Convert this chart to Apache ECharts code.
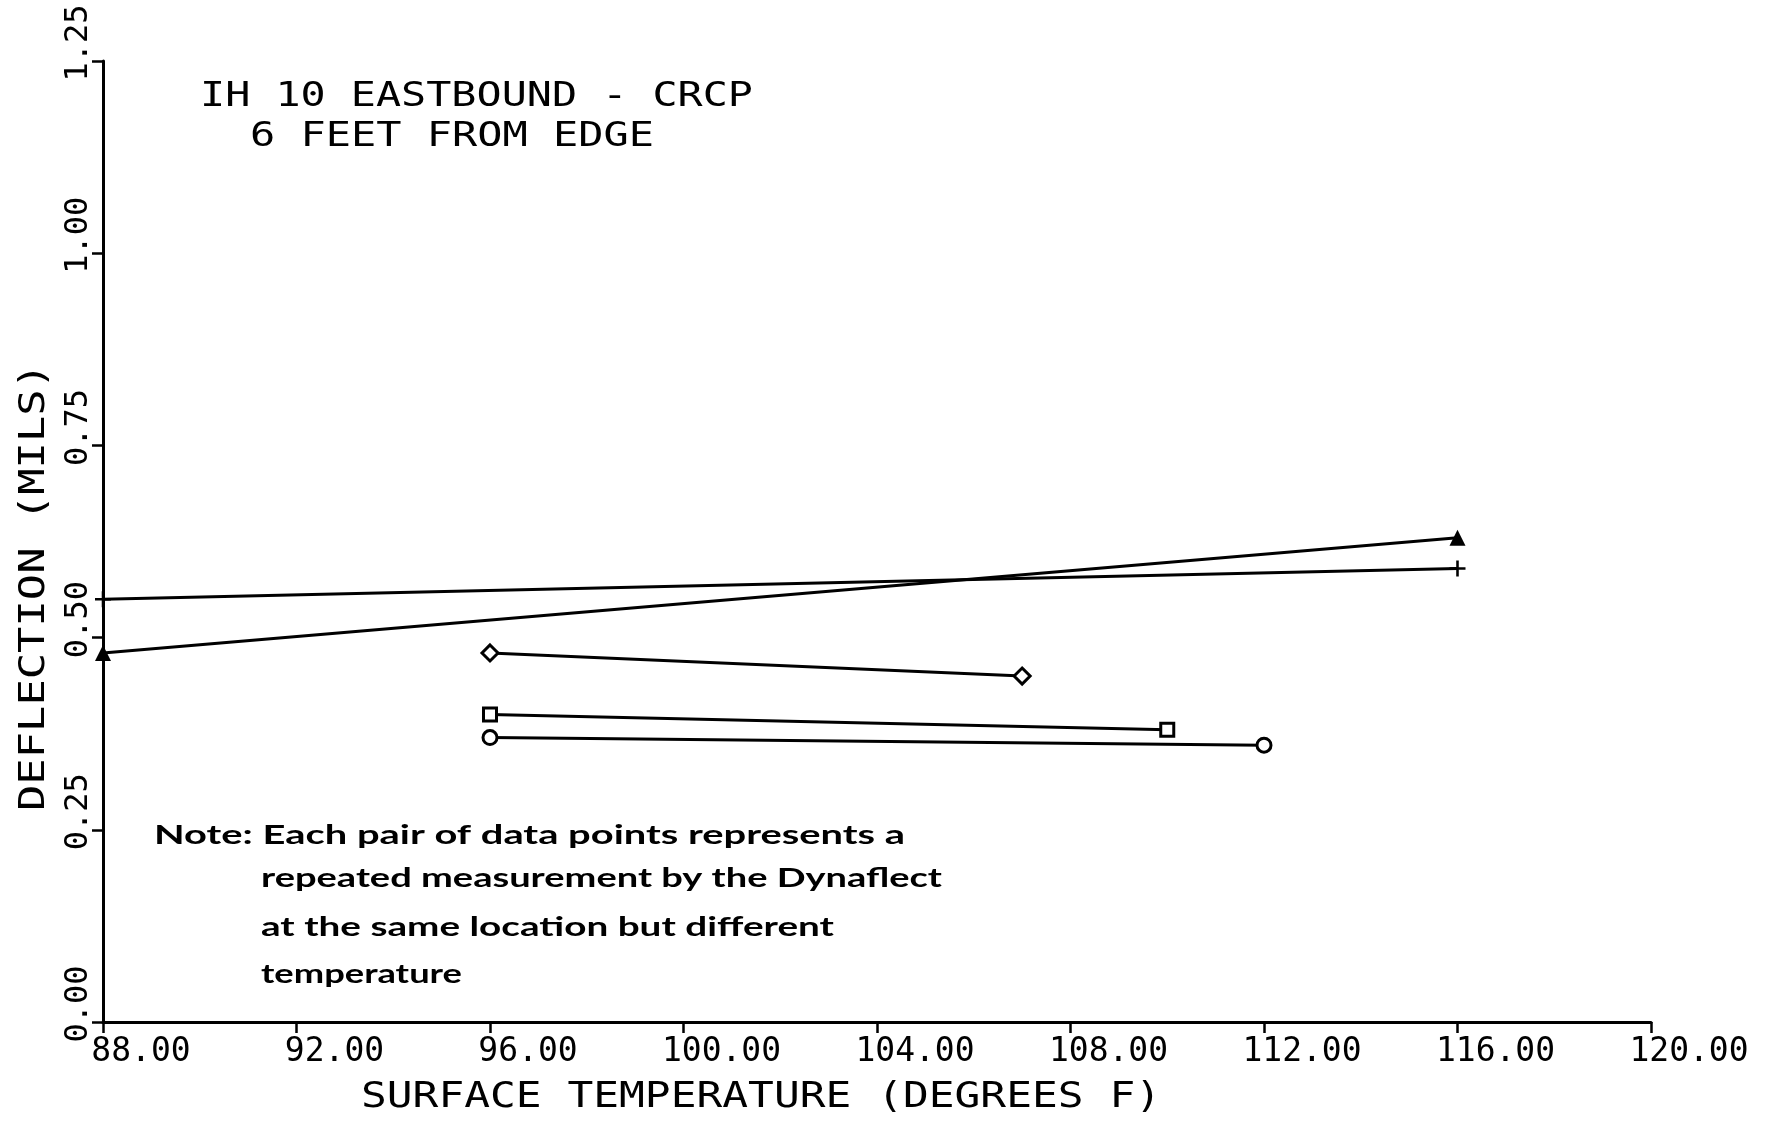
<!DOCTYPE html>
<html>
<head>
<meta charset="utf-8">
<title>IH 10 Eastbound - CRCP deflection vs surface temperature</title>
<script src="https://cdn.jsdelivr.net/npm/echarts@6/dist/echarts.min.js"></script>
<style>
  html, body { margin: 0; padding: 0; background: #fff; }
  #chart { width: 1767px; height: 1122px; }
</style>
</head>
<body>
<div id="chart"></div>
<script>
// Repeated Dynaflect measurements: each pair is one location read at two temperatures.
const pairNames = ['Pair A', 'Pair B', 'Pair C', 'Pair D', 'Pair E'];
const pairSymbols = ['triangle', 'plus', 'diamond', 'rect', 'circle'];
const pairTemps = [
  [88, 116],
  [88, 116],
  [96, 107],
  [96, 110],
  [96, 112]
];
const pairDeflections = [
  [0.48, 0.63],
  [0.55, 0.59],
  [0.48, 0.45],
  [0.40, 0.38],
  [0.37, 0.36]
];

const xTicks = { min: 88, max: 120, step: 4 };
const yTicks = { min: 0, max: 1.25, step: 0.25 };

const titleLines = ['IH 10 EASTBOUND - CRCP', '6 FEET FROM EDGE'];
const xAxisTitle = 'SURFACE TEMPERATURE (DEGREES F)';
const yAxisTitle = 'DEFLECTION (MILS)';
const noteLines = [
  'Note: Each pair of data points represents a',
  'repeated measurement by the Dynaflect',
  'at the same location but different',
  'temperature'
];

// ---- drawing ----
const PLOT_FONT = '"DejaVu Sans Mono", "Liberation Mono", monospace';
const NOTE_FONT = 'Lato, "DejaVu Sans", sans-serif';
const INK = '#000';

const measureCtx = document.createElement('canvas').getContext('2d');
// horizontal stretch that makes a string span the requested width
function stretchFor(text, font, width) {
  measureCtx.font = font;
  return width / measureCtx.measureText(text).width;
}

function fittedText(text, font, x, y, width, opts) {
  opts = opts || {};
  return {
    type: 'text',
    x: x,
    y: y,
    rotation: opts.rotation || 0,
    scaleX: stretchFor(text, font, width),
    silent: true,
    style: {
      text: text,
      font: font,
      fill: INK,
      align: opts.align || 'left',
      verticalAlign: 'middle'
    }
  };
}

const plusPath = 'path://M4.2,0H5.8V4.2H10V5.8H5.8V10H4.2V5.8H0V4.2H4.2Z';
const symbolStyles = {
  triangle: { symbol: 'triangle', size: 16, fill: INK },
  plus: { symbol: plusPath, size: 16, fill: INK },
  diamond: { symbol: 'diamond', size: 16, fill: '#fff' },
  rect: { symbol: 'rect', size: 13, fill: '#fff' },
  circle: { symbol: 'circle', size: 14, fill: '#fff' }
};

const series = pairNames.map(function (name, i) {
  const st = symbolStyles[pairSymbols[i]];
  return {
    name: name,
    type: 'line',
    data: pairTemps[i].map(function (t, j) { return [t, pairDeflections[i][j]]; }),
    symbol: st.symbol,
    symbolSize: st.size,
    showAllSymbol: true,
    lineStyle: { color: INK, width: 3 },
    itemStyle: { color: st.fill, borderColor: INK, borderWidth: st.fill === INK ? 0 : 3 },
    emphasis: { disabled: true },
    z: 3
  };
});

const titleFont = '34px ' + PLOT_FONT;
const axisTitleFont = '35px ' + PLOT_FONT;
const noteFont = 'bold 26px ' + NOTE_FONT;

const graphics = [
  fittedText(titleLines[0], titleFont, 200, 97, 553),
  fittedText(titleLines[1], titleFont, 250, 137, 404),
  fittedText(xAxisTitle, axisTitleFont, 361, 1098, 800),
  fittedText(yAxisTitle, axisTitleFont, 35, 587, 448, { rotation: Math.PI / 2, align: 'center' }),
  fittedText(noteLines[0], noteFont, 154, 836, 751),
  fittedText(noteLines[1], noteFont, 261, 879, 681),
  fittedText(noteLines[2], noteFont, 261, 928, 573),
  fittedText(noteLines[3], noteFont, 261, 975, 201)
];

const chart = echarts.init(document.getElementById('chart'), null, { renderer: 'canvas' });
chart.setOption({
  backgroundColor: '#fff',
  animation: false,
  grid: { left: 103, right: 116, top: 61, bottom: 100, containLabel: false },
  xAxis: {
    type: 'value',
    min: xTicks.min,
    max: xTicks.max,
    interval: xTicks.step,
    axisLine: { lineStyle: { color: INK, width: 3 } },
    axisTick: { show: true, inside: false, length: 11, lineStyle: { color: INK, width: 2.5 } },
    splitLine: { show: false },
    axisLabel: {
      color: INK,
      fontFamily: PLOT_FONT,
      fontSize: 33,
      margin: 14,
      padding: [0, 0, 0, 76],
      formatter: function (v) { return v.toFixed(2); }
    }
  },
  yAxis: {
    type: 'value',
    min: yTicks.min,
    max: yTicks.max,
    interval: yTicks.step,
    axisLine: { show: true, lineStyle: { color: INK, width: 3 } },
    axisTick: { show: true, inside: false, length: 11, lineStyle: { color: INK, width: 2.5 } },
    splitLine: { show: false },
    axisLabel: {
      color: INK,
      fontFamily: PLOT_FONT,
      fontSize: 32,
      rotate: 90,
      margin: 8,
      padding: [0, 0, 0, 36],
      formatter: function (v) { return v.toFixed(2); }
    }
  },
  series: series,
  graphic: { elements: graphics }
});
</script>
</body>
</html>
